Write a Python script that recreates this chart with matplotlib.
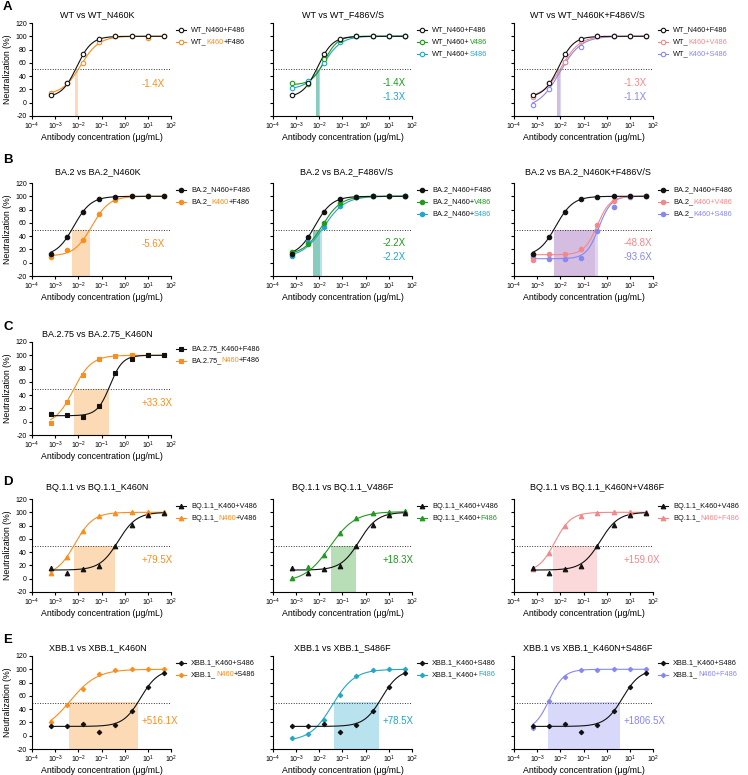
import numpy as np
import matplotlib
matplotlib.use("Agg")
import matplotlib.pyplot as plt
from matplotlib.ticker import FixedLocator, NullLocator

plt.rcParams['font.family'] = ['Liberation Sans', 'DejaVu Sans']
plt.rcParams['mathtext.fontset'] = 'custom'
plt.rcParams['mathtext.rm'] = 'Liberation Sans'
plt.rcParams['mathtext.it'] = 'Liberation Sans'
plt.rcParams['mathtext.bf'] = 'Liberation Sans:bold'
plt.rcParams['axes.unicode_minus'] = False

# ---------------- data ----------------
conc = [0.00064, 0.0032, 0.016, 0.08, 0.4, 2, 10, 50]

wt_n460_f486 = [11.5, 29, 74, 96.5, 100, 100, 100, 100]
wt_k460_f486 = [14, 29, 60, 92, 100, 100, 98, 100]
wt_n460_v486 = [29, 27.5, 65.5, 95, 100, 100, 100, 100]
wt_n460_s486 = [22.5, 32.5, 60, 91.5, 100, 100, 100, 100]
wt_k460_v486 = [9, 29, 61.5, 93, 100, 100, 100, 100]
wt_k460_s486 = [-4, 20.5, 61.5, 84, 100, 100, 100, 100]

ba2_n460_f486 = [13.6, 38, 77, 96, 99.5, 100, 100, 100]
ba2_k460_f486 = [8.6, 19, 34, 73, 94.5, 100, 100, 100]
ba2_n460_v486 = [16, 27.5, 60, 90, 99.5, 100, 100, 100]
ba2_n460_s486 = [9.5, 31, 54.5, 86, 99, 100, 100, 100]
ba2_k460_v486 = [4.5, 13.5, 13.5, 21, 56.5, 93.5, 100, 100]
ba2_k460_s486 = [8.5, 6, 6, 6.5, 47.5, 83.5, 99, 100]

ba275_k460_f486 = [11.7, 10, 7.6, 23, 73, 94, 100.5, 100.5]
ba275_n460_f486 = [-2.5, 30, 70, 94.7, 99, 100.5, 100.5, 100.5]

bq11_k460_v486 = [15.7, 8, 15, 19.7, 50, 81, 96, 99.5]
bq11_n460_v486 = [8, 33, 72, 95, 99.5, 100, 100.5, 100.5]
bq11_k460_f486 = [0.5, 18, 36, 68.7, 91.4, 99, 100.5, 101.5]
bq11_n460_f486 = [14.6, 39.4, 80, 94.4, 99.5, 100.5, 100.5, 100]

xbb1_k460_s486 = [15.2, 14.2, 17.8, 5.6, 16.8, 36.5, 73.6, 94]
xbb1_n460_s486 = [20.3, 46.7, 70, 92.4, 98.5, 100, 100, 101]
xbb1_k460_f486 = [-4, 3, 24, 62, 90, 99, 100, 100]
xbb1_n460_f486 = [11.7, 53, 88, 99, 99.5, 100, 100, 100]

# fitted 4PL parameters: (bottom, top, log10 midpoint, hill)
fit = {
    'wt_n460_f486': (8, 100, -2.07, 1.35),
    'wt_k460_f486': (12, 100, -1.90, 1.10),
    'wt_n460_v486': (27, 100, -1.77, 1.55),
    'wt_n460_s486': (20, 100, -1.80, 1.15),
    'wt_k460_v486': (8, 100, -1.95, 1.10),
    'wt_k460_s486': (-8, 100, -2.02, 0.95),
    'ba2_n460_f486': (10, 100, -2.195, 1.17),
    'ba2_k460_f486': (10, 100, -1.42, 1.15),
    'ba2_n460_v486': (12, 100, -1.87, 1.085),
    'ba2_n460_s486': (8, 100, -1.81, 0.95),
    'ba2_k460_v486': (12, 100, -0.41, 1.55),
    'ba2_k460_s486': (6, 100, -0.34, 1.60),
    'ba275_k460_f486': (9, 100, -0.635, 1.59),
    'ba275_n460_f486': (-5, 100, -2.22, 1.10),
    'bq11_k460_v486': (13, 100, -0.28, 1.10),
    'bq11_n460_v486': (5, 100, -2.15, 1.10),
    'bq11_k460_f486': (-5, 101, -1.55, 0.80),
    'bq11_n460_f486': (10, 100, -2.24, 1.24),
    'xbb1_k460_s486': (14, 100, 0.69, 1.15),
    'xbb1_n460_s486': (5, 100, -2.35, 0.75),
    'xbb1_k460_f486': (-8, 100, -1.44, 0.90),
    'xbb1_n460_f486': (8, 100, -2.48, 1.35),
}

values = {
    'wt_n460_f486': wt_n460_f486, 'wt_k460_f486': wt_k460_f486,
    'wt_n460_v486': wt_n460_v486, 'wt_n460_s486': wt_n460_s486,
    'wt_k460_v486': wt_k460_v486, 'wt_k460_s486': wt_k460_s486,
    'ba2_n460_f486': ba2_n460_f486, 'ba2_k460_f486': ba2_k460_f486,
    'ba2_n460_v486': ba2_n460_v486, 'ba2_n460_s486': ba2_n460_s486,
    'ba2_k460_v486': ba2_k460_v486, 'ba2_k460_s486': ba2_k460_s486,
    'ba275_k460_f486': ba275_k460_f486, 'ba275_n460_f486': ba275_n460_f486,
    'bq11_k460_v486': bq11_k460_v486, 'bq11_n460_v486': bq11_n460_v486,
    'bq11_k460_f486': bq11_k460_f486, 'bq11_n460_f486': bq11_n460_f486,
    'xbb1_k460_s486': xbb1_k460_s486, 'xbb1_n460_s486': xbb1_n460_s486,
    'xbb1_k460_f486': xbb1_k460_f486, 'xbb1_n460_f486': xbb1_n460_f486,
}

BLACK = '#111111'
ORANGE = '#F98E1D'
GREEN = '#1F9A1F'
CYAN = '#22A7C7'
SALMON = '#F4878A'
LAVENDER = '#8787F2'

x_ticks = [1e-4, 1e-3, 1e-2, 1e-1, 1e0, 1e1, 1e2]
y_ticks = [-20, 0, 20, 40, 60, 80, 100, 120]

# panels: (row, col, title, marker, filled, [(key, color, legend parts)], fold labels)
panels = [
    ('A', 0, 'WT vs WT_N460K', 'o', False,
     [('wt_n460_f486', BLACK, [('WT_N460+F486', BLACK)]),
      ('wt_k460_f486', ORANGE, [('WT_', BLACK), ('K460', ORANGE), ('+F486', BLACK)])],
     [('-1.4X', ORANGE)]),
    ('A', 1, 'WT vs WT_F486V/S', 'o', False,
     [('wt_n460_f486', BLACK, [('WT_N460+F486', BLACK)]),
      ('wt_n460_v486', GREEN, [('WT_N460+', BLACK), ('V486', GREEN)]),
      ('wt_n460_s486', CYAN, [('WT_N460+', BLACK), ('S486', CYAN)])],
     [('-1.4X', GREEN), ('-1.3X', CYAN)]),
    ('A', 2, 'WT vs WT_N460K+F486V/S', 'o', False,
     [('wt_n460_f486', BLACK, [('WT_N460+F486', BLACK)]),
      ('wt_k460_v486', SALMON, [('WT_', BLACK), ('K460+V486', SALMON)]),
      ('wt_k460_s486', LAVENDER, [('WT_', BLACK), ('K460+S486', LAVENDER)])],
     [('-1.3X', SALMON), ('-1.1X', LAVENDER)]),
    ('B', 0, 'BA.2 vs BA.2_N460K', 'o', True,
     [('ba2_n460_f486', BLACK, [('BA.2_N460+F486', BLACK)]),
      ('ba2_k460_f486', ORANGE, [('BA.2_', BLACK), ('K460', ORANGE), ('+F486', BLACK)])],
     [('-5.6X', ORANGE)]),
    ('B', 1, 'BA.2 vs BA.2_F486V/S', 'o', True,
     [('ba2_n460_f486', BLACK, [('BA.2_N460+F486', BLACK)]),
      ('ba2_n460_v486', GREEN, [('BA.2_N460+', BLACK), ('V486', GREEN)]),
      ('ba2_n460_s486', CYAN, [('BA.2_N460+', BLACK), ('S486', CYAN)])],
     [('-2.2X', GREEN), ('-2.2X', CYAN)]),
    ('B', 2, 'BA.2 vs BA.2_N460K+F486V/S', 'o', True,
     [('ba2_n460_f486', BLACK, [('BA.2_N460+F486', BLACK)]),
      ('ba2_k460_v486', SALMON, [('BA.2_', BLACK), ('K460+V486', SALMON)]),
      ('ba2_k460_s486', LAVENDER, [('BA.2_', BLACK), ('K460+S486', LAVENDER)])],
     [('-48.8X', SALMON), ('-93.6X', LAVENDER)]),
    ('C', 0, 'BA.2.75 vs BA.2.75_K460N', 's', True,
     [('ba275_k460_f486', BLACK, [('BA.2.75_K460+F486', BLACK)]),
      ('ba275_n460_f486', ORANGE, [('BA.2.75_', BLACK), ('N460', ORANGE), ('+F486', BLACK)])],
     [('+33.3X', ORANGE)]),
    ('D', 0, 'BQ.1.1 vs BQ.1.1_K460N', '^', True,
     [('bq11_k460_v486', BLACK, [('BQ.1.1_K460+V486', BLACK)]),
      ('bq11_n460_v486', ORANGE, [('BQ.1.1_', BLACK), ('N460', ORANGE), ('+V486', BLACK)])],
     [('+79.5X', ORANGE)]),
    ('D', 1, 'BQ.1.1 vs BQ.1.1_V486F', '^', True,
     [('bq11_k460_v486', BLACK, [('BQ.1.1_K460+V486', BLACK)]),
      ('bq11_k460_f486', GREEN, [('BQ.1.1_K460+', BLACK), ('F486', GREEN)])],
     [('+18.3X', GREEN)]),
    ('D', 2, 'BQ.1.1 vs BQ.1.1_K460N+V486F', '^', True,
     [('bq11_k460_v486', BLACK, [('BQ.1.1_K460+V486', BLACK)]),
      ('bq11_n460_f486', SALMON, [('BQ.1.1_', BLACK), ('N460+F486', SALMON)])],
     [('+159.0X', SALMON)]),
    ('E', 0, 'XBB.1 vs XBB.1_K460N', 'D', True,
     [('xbb1_k460_s486', BLACK, [('XBB.1_K460+S486', BLACK)]),
      ('xbb1_n460_s486', ORANGE, [('XBB.1_', BLACK), ('N460', ORANGE), ('+S486', BLACK)])],
     [('+516.1X', ORANGE)]),
    ('E', 1, 'XBB.1 vs XBB.1_S486F', 'D', True,
     [('xbb1_k460_s486', BLACK, [('XBB.1_K460+S486', BLACK)]),
      ('xbb1_k460_f486', CYAN, [('XBB.1_K460+', BLACK), ('F486', CYAN)])],
     [('+78.5X', CYAN)]),
    ('E', 2, 'XBB.1 vs XBB.1_K460N+S486F', 'D', True,
     [('xbb1_k460_s486', BLACK, [('XBB.1_K460+S486', BLACK)]),
      ('xbb1_n460_f486', LAVENDER, [('XBB.1_', BLACK), ('N460+F486', LAVENDER)])],
     [('+1806.5X', LAVENDER)]),
]

# ---------------- layout ----------------
W, H = 748, 775
fig = plt.figure(figsize=(W / 100, H / 100), dpi=100)
col_left = [32, 273, 514]
col_title_x = [0.47, 0.5, 0.53]
title_x_override = {('D', 2): 0.6, ('B', 1): 0.53}
row_top = {'A': 23, 'B': 183, 'C': 342, 'D': 499, 'E': 656}
row_title_pad = {'A': 4.5, 'B': 6.0, 'C': 4.5, 'D': 6.5, 'E': 4.5}
row_letter_y = {'A': 7, 'B': 160, 'C': 327, 'D': 482, 'E': 640}
AX_W, AX_H = 139, 93

FS_TICK = 5.0
FS_TITLE = 6.5
FS_LABEL = 6.3
FS_LEG = 5.3
FS_FOLD = 7.0
LW = 0.8


def logistic(xx, p):
    b, t, m, h = p
    return b + (t - b) / (1 + 10 ** ((m - np.log10(xx)) * h))


def ic50(p):
    b, t, m, h = p
    return 10 ** (m - np.log10((t - b) / (50 - b) - 1) / h)


def rich_text(ax, x, y, parts, size):
    t = ax.text(x, y, parts[0][0], color=parts[0][1], transform=ax.transAxes,
                fontsize=size, va='center', ha='left', clip_on=False)
    for s, c in parts[1:]:
        t = ax.annotate(s, xycoords=t, xy=(1, 0), va='bottom', ha='left',
                        color=c, fontsize=size, annotation_clip=False)
    return t


for (row, col, title, marker, filled, series, folds) in panels:
    left = col_left[col]
    top = row_top[row]
    ax = fig.add_axes([left / W, 1 - (top + AX_H) / H, AX_W / W, AX_H / H])
    ax.set_xscale('log')
    ax.set_xlim(1e-4, 1e2)
    ax.set_ylim(-20, 120)
    ax.xaxis.set_major_locator(FixedLocator(x_ticks))
    ax.xaxis.set_minor_locator(NullLocator())
    ax.yaxis.set_major_locator(FixedLocator(y_ticks))
    for s in ['top', 'right']:
        ax.spines[s].set_visible(False)
    for s in ['left', 'bottom']:
        ax.spines[s].set_linewidth(0.8)
    ax.tick_params(axis='both', which='major', direction='out', length=2.5,
                   width=0.8, labelsize=FS_TICK, pad=1.2)
    if col != 0:
        ax.set_yticklabels([])
    else:
        ax.set_ylabel('Neutralization (%)', fontsize=FS_LABEL, labelpad=2)
    ax.set_xlabel('Antibody concentration (\u03bcg/mL)', fontsize=FS_LABEL, labelpad=0.5)
    tx = title_x_override.get((row, col), col_title_x[col])
    ax.set_title(title, fontsize=FS_TITLE, pad=row_title_pad[row], x=tx)

    ax.axhline(50, color='#333333', lw=0.7, ls=(0, (1, 1.6)), zorder=1)

    ref_key = series[0][0]
    ref_ic = ic50(fit[ref_key])
    for key, color, _ in series[1:]:
        mut_ic = ic50(fit[key])
        ax.fill_between([min(ref_ic, mut_ic), max(ref_ic, mut_ic)], -20, 50,
                        color=color, alpha=0.32, lw=0, zorder=0)

    xx = np.logspace(np.log10(conc[0]), np.log10(conc[-1]), 300)
    for key, color, _ in series[::-1]:
        ax.plot(xx, logistic(xx, fit[key]), color=color, lw=LW, zorder=3)
    ms = {'o': 3.2, 's': 3.0, '^': 3.3, 'D': 2.3}[marker]
    for key, color, _ in series[::-1]:
        ax.plot(conc, values[key], ls='none', marker=marker, ms=ms,
                mfc=(color if filled else 'white'), mec=color, mew=0.8,
                zorder=4, clip_on=False)

    # fold labels
    ys = [22] if row == 'E' else ([28] if len(folds) == 1 else [30, 8])
    for (txt, c), yv in zip(folds, ys):
        ax.text(0.79, yv, txt, color=c, fontsize=FS_FOLD,
                transform=ax.get_yaxis_transform(), va='center', ha='left')

    # manual legend with mixed-colour labels
    for i, (key, color, parts) in enumerate(series):
        yf = 1 - (7 + i * 12) / AX_H
        x0, x1, xm = 1 + 5 / AX_W, 1 + 15 / AX_W, 1 + 10 / AX_W
        ax.plot([x0, x1], [yf, yf], color=color, lw=LW, transform=ax.transAxes,
                clip_on=False)
        ax.plot([xm], [yf], marker=marker, ms=ms, mfc=(color if filled else 'white'),
                mec=color, mew=0.8, transform=ax.transAxes, clip_on=False)
        rich_text(ax, 1 + 20 / AX_W, yf, parts, FS_LEG)

for row, yy in row_letter_y.items():
    fig.text(3 / W, 1 - yy / H, row, fontsize=9.5, fontweight='bold',
             va='center', ha='left')

fig.savefig('out.png', dpi=100)
